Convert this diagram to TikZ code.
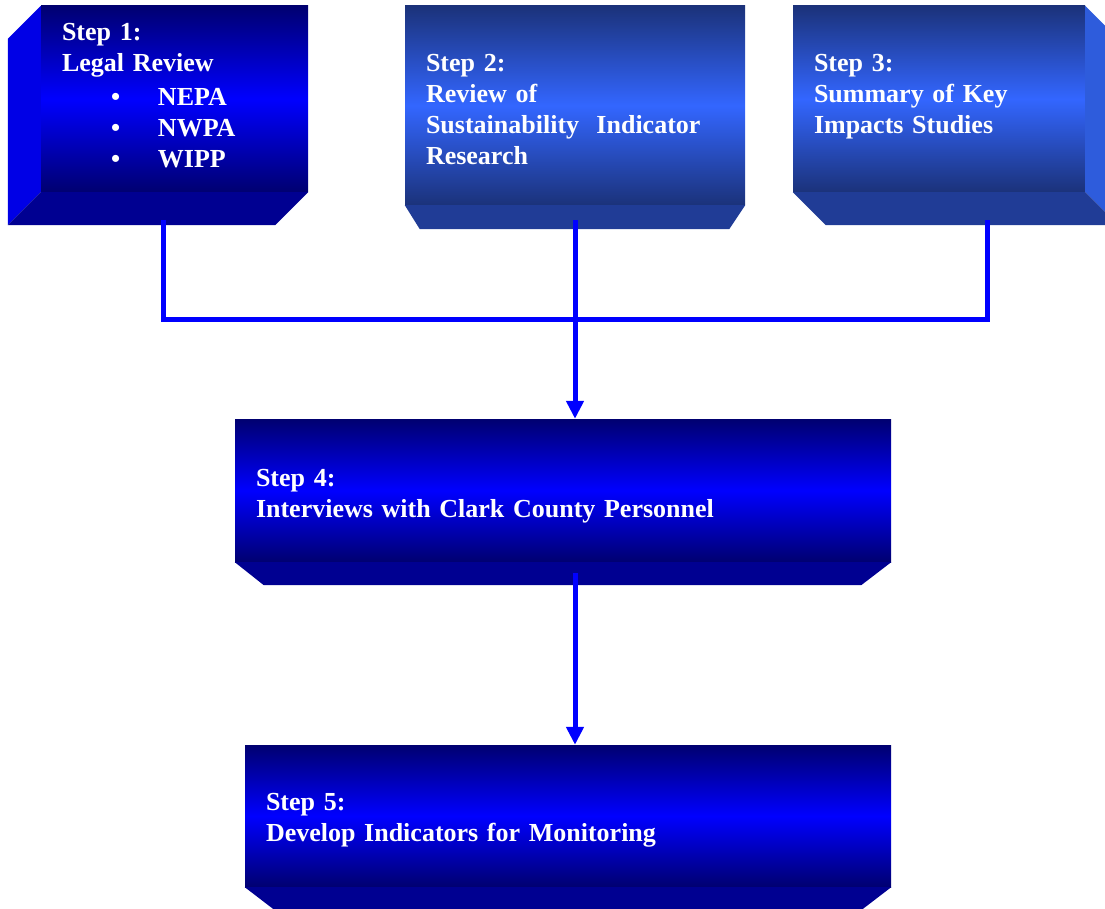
\documentclass[tikz,border=0pt]{standalone}
\usepackage{fontspec}
\setmainfont{Liberation Serif}
\usetikzlibrary{arrows.meta,calc,positioning}
\definecolor{navydeep}{RGB}{0,0,112}
\definecolor{purebl}{RGB}{0,0,255}
\definecolor{navyside}{RGB}{0,0,230}
\definecolor{navyfloor}{RGB}{0,0,145}
\definecolor{steeltop}{RGB}{27,50,122}
\definecolor{steelmid}{RGB}{51,102,255}
\definecolor{steelside}{RGB}{46,92,220}
\definecolor{steelfloor}{RGB}{32,60,150}
\tikzset{
  stepbox/.style={inner xsep=21pt, inner ysep=0pt, align=left, text=white,
    font=\fontsize{26}{31}\selectfont\bfseries},
  navybox/.style={stepbox, top color=navydeep, bottom color=navydeep, middle color=purebl},
  steelbox/.style={stepbox, top color=steeltop, bottom color=steeltop, middle color=steelmid},
  link/.style={draw=purebl, line width=5pt},
  flow/.style={link, -{Triangle[length=18pt,width=17pt]}}
}

\begin{document}
\begin{tikzpicture}[x=1pt, y=-1pt]
    \useasboundingbox (0,0) rectangle (1105,909);
    \clip (0,0) rectangle (1105,909);
    % Step 1: legal review
    \node[navybox, minimum width=267pt, minimum height=186pt, text width=225pt] (s1) at (174.5,99)
      {Step 1:\\ Legal Review\\[3pt]
       \hspace*{49pt}\makebox[47pt][l]{\textbullet}NEPA\\
       \hspace*{49pt}\makebox[47pt][l]{\textbullet}NWPA\\
       \hspace*{49pt}\makebox[47pt][l]{\textbullet}WIPP\rule[-7pt]{0pt}{0pt}};
    \fill[navyside] (s1.north west) -- ++(-33,33) -- ($(s1.south west)+(-33,33)$) -- (s1.south west) -- cycle;
    \fill[navyfloor] (s1.south west) -- (s1.south east) -- ++(-33,33) -- ($(s1.south west)+(-33,33)$) -- cycle;
    % Step 2: indicator research
    \node[steelbox, minimum width=340pt, minimum height=199pt, text width=298pt] (s2) at (575,105.5)
      {\rule{0pt}{25pt}Step 2:\\ Review of\\ Sustainability\ \ Indicator\\ Research};
    \fill[steelfloor] (s2.south west) -- (s2.south east) -- ++(-16,24) -- ($(s2.south west)+(15,24)$) -- cycle;
    % Step 3: impacts studies
    \node[steelbox, minimum width=292pt, minimum height=186pt, text width=250pt] (s3) at (939,99)
      {Step 3:\\ Summary of Key\\ Impacts Studies\rule[-10pt]{0pt}{0pt}};
    \fill[steelside] (s3.north east) -- ++(33,33) -- ($(s3.south east)+(33,33)$) -- (s3.south east) -- cycle;
    \fill[steelfloor] (s3.south west) -- (s3.south east) -- ++(33,33) -- ($(s3.south west)+(33,33)$) -- cycle;
    % Step 4: interviews
    \node[navybox, minimum width=656pt, minimum height=143pt, text width=614pt] (s4) at (563,490.5)
      {\rule{0pt}{28pt}Step 4:\\ Interviews with Clark County Personnel};
    \fill[navyfloor] (s4.south west) -- (s4.south east) -- ++(-30,23) -- ($(s4.south west)+(29,23)$) -- cycle;
    % Step 5: indicators
    \node[navybox, minimum width=646pt, minimum height=142pt, text width=604pt] (s5) at (568,816)
      {\rule{0pt}{26.5pt}Step 5:\\ Develop Indicators for Monitoring};
    \fill[navyfloor] (s5.south west) -- (s5.south east) -- ++(-30,23) -- ($(s5.south west)+(30,23)$) -- cycle;
    % connectors
    \coordinate (t1) at (163,220);
    \coordinate (t2) at (575,220);
    \coordinate (t3) at (987,220);
    \coordinate (hub) at (575,319);
    \coordinate (t4) at (575,573);
    \draw[link] (t1) |- (hub) -| (t3);
    \draw[flow] (t2) -- (t2 |- s4.north);
    \draw[flow] (t4) -- (t4 |- s5.north);
  \end{tikzpicture}
\end{document}
